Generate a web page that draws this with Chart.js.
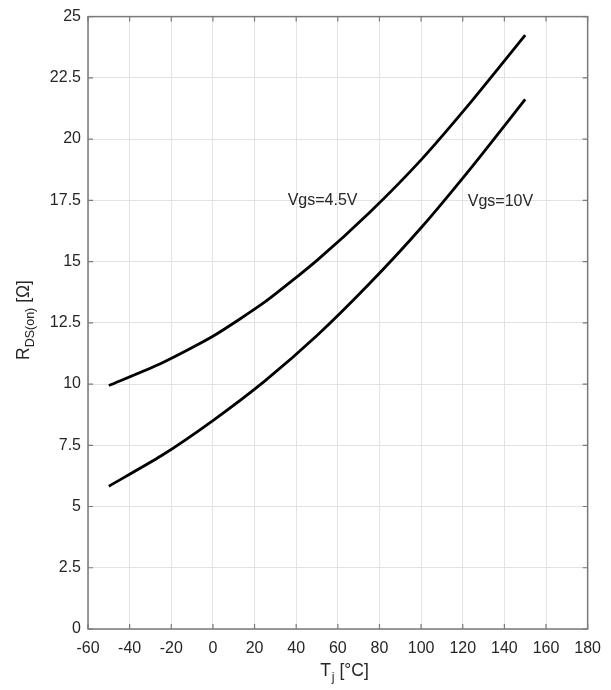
<!DOCTYPE html>
<html>
<head>
<meta charset="utf-8">
<script src="https://cdn.jsdelivr.net/npm/chart.js@4/dist/chart.umd.min.js"></script>
<style>
  body { margin: 0; background: #fff; }
  #wrap { width: 611px; height: 690px; }
</style>
</head>
<body>
<div id="wrap"><canvas id="rdsChart" width="611" height="690"></canvas></div>
<script>
// junction temperature (°C)
const tempC = [-50, -25, 0, 25, 50, 75, 100, 125, 150];
// on-resistance (Ω) per gate voltage
const rdsVgs45 = [9.94, 10.84, 11.95, 13.35, 15.05, 16.98, 19.15, 21.62, 24.24];
const rdsVgs10 = [5.83, 7.06, 8.51, 10.13, 11.98, 14.08, 16.38, 18.93, 21.62];

const xTicks = [-60, -40, -20, 0, 20, 40, 60, 80, 100, 120, 140, 160, 180];
const yTicks = ['0', '2.5', '5', '7.5', '10', '12.5', '15', '17.5', '20', '22.5', '25'];

const curveLabels = ['Vgs=4.5V', 'Vgs=10V'];
const curveLabelX = [35.9, 122.4];
const curveLabelY = [17.5, 17.45];

const FONT = '"Liberation Sans", Arial, sans-serif';
const TEXT = '#262626';

function toPoints(xs, ys) {
    return xs.map((x, i) => ({ x: x, y: ys[i] }));
}

// box, inner ticks, curve labels and axis titles
const decorations = {
    id: 'decorations',
    afterDatasetsDraw(chart) {
        const ctx = chart.ctx;
        const a = chart.chartArea;
        const xs = chart.scales.x;
        const ys = chart.scales.y;
        ctx.save();
        ctx.strokeStyle = '#7a7a7a';
        ctx.lineWidth = 1.5;
        ctx.strokeRect(a.left, a.top, a.right - a.left, a.bottom - a.top);
        ctx.lineWidth = 1.2;
        ctx.beginPath();
        xTicks.forEach(v => {
            const px = xs.getPixelForValue(v);
            ctx.moveTo(px, a.bottom); ctx.lineTo(px, a.bottom - 5);
            ctx.moveTo(px, a.top); ctx.lineTo(px, a.top + 5);
        });
        yTicks.forEach(t => {
            const py = ys.getPixelForValue(parseFloat(t));
            ctx.moveTo(a.left, py); ctx.lineTo(a.left + 5, py);
            ctx.moveTo(a.right, py); ctx.lineTo(a.right - 5, py);
        });
        ctx.stroke();

        ctx.fillStyle = TEXT;
        ctx.font = '16px ' + FONT;
        ctx.textAlign = 'left';
        ctx.textBaseline = 'middle';
        curveLabels.forEach((txt, i) => {
            ctx.fillText(txt, xs.getPixelForValue(curveLabelX[i]), ys.getPixelForValue(curveLabelY[i]));
        });
        ctx.restore();
    },
    afterDraw(chart) {
        const ctx = chart.ctx;
        ctx.save();
        ctx.fillStyle = TEXT;
        ctx.textBaseline = 'alphabetic';
        ctx.textAlign = 'left';

        // x title: T_j [°C]
        const big = '17.5px ' + FONT, small = '12.5px ' + FONT;
        ctx.font = big;
        const wT = ctx.measureText('T').width;
        const wRest = ctx.measureText(' [°C]').width;
        ctx.font = small;
        const wj = ctx.measureText('j').width;
        let x0 = 344 - (wT + wj + wRest) / 2;
        const yb = 676;
        ctx.font = big; ctx.fillText('T', x0, yb);
        ctx.font = small; ctx.fillText('j', x0 + wT + 1, yb + 5);
        ctx.font = big; ctx.fillText(' [°C]', x0 + wT + wj + 1, yb);

        // y title: R_DS(on) [Ω]
        ctx.translate(28.5, 320);
        ctx.rotate(-Math.PI / 2);
        ctx.font = big;
        const wR = ctx.measureText('R').width;
        const wO = ctx.measureText(' [Ω]').width;
        ctx.font = small;
        const wSub = ctx.measureText('DS(on)').width;
        x0 = -(wR + wSub + wO) / 2;
        ctx.font = big; ctx.fillText('R', x0, 0);
        ctx.font = small; ctx.fillText('DS(on)', x0 + wR, 5);
        ctx.font = big; ctx.fillText(' [Ω]', x0 + wR + wSub, 0);
        ctx.restore();
    }
};

new Chart(document.getElementById('rdsChart').getContext('2d'), {
    type: 'line',
    data: {
        datasets: [
            { label: curveLabels[0], data: toPoints(tempC, rdsVgs45) },
            { label: curveLabels[1], data: toPoints(tempC, rdsVgs10) }
        ].map(d => Object.assign(d, {
            borderColor: '#000000',
            borderWidth: 2.8,
            pointRadius: 0,
            tension: 0.2,
            fill: false
        }))
    },
    options: {
        responsive: false,
        animation: false,
        events: [],
        layout: { padding: { top: 12, right: 21, left: 0, bottom: 0 } },
        plugins: { legend: { display: false }, tooltip: { enabled: false } },
        scales: {
            x: {
                type: 'linear',
                min: -60,
                max: 180,
                afterFit(scale) { scale.height = 61; },
                afterBuildTicks(scale) { scale.ticks = xTicks.map(v => ({ value: v })); },
                grid: { color: '#e3e3e3', lineWidth: 1, drawTicks: false },
                border: { display: false },
                ticks: {
                    padding: 10,
                    color: TEXT,
                    font: { family: FONT, size: 16 },
                    maxRotation: 0,
                    callback: v => String(v)
                }
            },
            y: {
                type: 'linear',
                min: 0,
                max: 25,
                afterFit(scale) { scale.width = 88; },
                afterBuildTicks(scale) { scale.ticks = yTicks.map(t => ({ value: parseFloat(t) })); },
                grid: { color: '#e3e3e3', lineWidth: 1, drawTicks: false },
                border: { display: false },
                ticks: {
                    padding: 7,
                    color: TEXT,
                    font: { family: FONT, size: 16 },
                    callback: v => yTicks[yTicks.map(parseFloat).indexOf(v)]
                }
            }
        }
    },
    plugins: [decorations]
});
</script>
</body>
</html>
